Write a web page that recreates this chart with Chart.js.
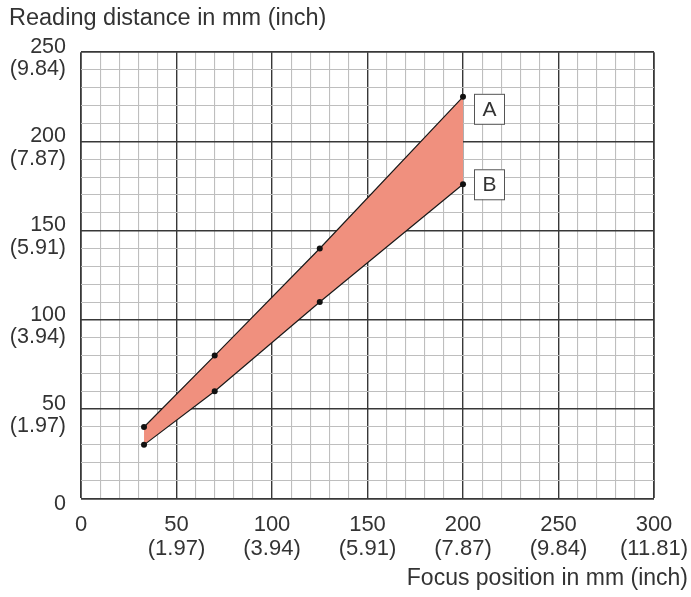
<!DOCTYPE html>
<html>
<head>
<meta charset="utf-8">
<script src="https://cdn.jsdelivr.net/npm/chart.js@4"></script>
<style>
  html, body { margin: 0; padding: 0; background: #fff; }
  #wrap { width: 691px; height: 597px; }
</style>
</head>
<body>
<div id="wrap"><canvas id="focusChart" width="691" height="597"></canvas></div>
<script>
// Values
const focusPos = [33, 70, 125, 200];          // focus position (mm)
const curveA = [40, 80, 140, 225];            // upper limit A (mm)
const curveB = [30, 60, 110, 176];            // lower limit B (mm)
const seriesNames = ['A', 'B'];

const xMajor = [0, 50, 100, 150, 200, 250, 300];
const xInch = ['', '(1.97)', '(3.94)', '(5.91)', '(7.87)', '(9.84)', '(11.81)'];
const yMajor = [0, 50, 100, 150, 200, 250];
const yInch = ['', '(1.97)', '(3.94)', '(5.91)', '(7.87)', '(9.84)'];

const FONT = "'Liberation Sans', Arial, sans-serif";
const TEXT = '#333';

function tickLabel(majors, inches) {
    return function(value) {
        const i = majors.indexOf(value);
        if (i < 0) return '';
        return inches[i] ? [String(value), inches[i]] : String(value);
    };
}

function gridColor(ctx) {
    return ctx.tick && ctx.tick.value % 50 === 0 ? '#383838' : '#bebebe';
}
// the outer frame is a little heavier than the inner major lines
function gridWidth(ctx) {
    if (!ctx.tick) return 1;
    const v = ctx.tick.value;
    if (v === ctx.scale.min || v === ctx.scale.max) return 1.8;
    return v % 50 === 0 ? 1.4 : 1.1;
}

// Boxed "A" / "B" labels next to the last point of each curve
const endLabels = {
    id: 'endLabels',
    afterDatasetsDraw(chart) {
        const ctx = chart.ctx;
        const shifts = [12, 0];
        chart.data.datasets.forEach((ds, i) => {
            const meta = chart.getDatasetMeta(i);
            const pt = meta.data[meta.data.length - 1];
            const w = 30, h = 30;
            const bx = pt.x + 11, by = pt.y + shifts[i] - h / 2;
            ctx.save();
            ctx.fillStyle = '#fff';
            ctx.strokeStyle = '#555';
            ctx.lineWidth = 1;
            ctx.fillRect(bx, by, w, h);
            ctx.strokeRect(bx + 0.5, by + 0.5, w, h);
            ctx.fillStyle = TEXT;
            ctx.font = '21px ' + FONT;
            ctx.textAlign = 'center';
            ctx.textBaseline = 'middle';
            ctx.fillText(seriesNames[i], bx + w / 2 + 0.5, by + h / 2 + 1);
            ctx.restore();
        });
    }
};

const chartCtx = document.getElementById('focusChart').getContext('2d');
const focusChart = new Chart(chartCtx, {
    type: 'line',
    data: {
        datasets: [{
            label: seriesNames[0],
            data: focusPos.map((x, i) => ({ x: x, y: curveA[i] })),
            borderColor: '#1a1a1a',
            borderWidth: 1.2,
            backgroundColor: '#f0907e',
            fill: '+1',
            order: 2,
            pointRadius: 3,
            pointBackgroundColor: '#111',
            pointBorderWidth: 0,
            tension: 0
        }, {
            label: seriesNames[1],
            data: focusPos.map((x, i) => ({ x: x, y: curveB[i] })),
            borderColor: '#1a1a1a',
            borderWidth: 1.2,
            fill: false,
            order: 1,
            pointRadius: 3,
            pointBackgroundColor: '#111',
            pointBorderWidth: 0,
            tension: 0
        }]
    },
    options: {
        responsive: false,
        animation: false,
        layout: { padding: { left: 9, right: 3, top: 0, bottom: 0 } },
        plugins: {
            legend: { display: false },
            tooltip: { enabled: false },
            title: {
                display: true,
                text: 'Reading distance in mm (inch)',
                align: 'start',
                color: TEXT,
                font: { family: FONT, size: 23.5, weight: 'normal', lineHeight: 1.2 },
                padding: { top: 4, bottom: 20 }
            },
            subtitle: {
                display: true,
                position: 'bottom',
                text: 'Focus position in mm (inch)',
                align: 'end',
                color: TEXT,
                font: { family: FONT, size: 23, weight: 'normal', lineHeight: 1.2 },
                padding: { top: 0, bottom: 5 }
            }
        },
        scales: {
            x: {
                type: 'linear',
                min: 0,
                max: 300,
                afterFit: s => { s.height = 66; s.paddingLeft = 0; s.paddingRight = 0; },
                border: { display: false },
                grid: { color: gridColor, lineWidth: gridWidth, drawTicks: false },
                ticks: {
                    stepSize: 10,
                    autoSkip: false,
                    maxRotation: 0,
                    padding: 14,
                    color: TEXT,
                    font: { family: FONT, size: 22, lineHeight: 1.1 },
                    callback: tickLabel(xMajor, xInch)
                }
            },
            y: {
                type: 'linear',
                min: 0,
                max: 250,
                afterFit: s => { s.width = 72; },
                border: { display: false },
                grid: { color: gridColor, lineWidth: gridWidth, drawTicks: false },
                ticks: {
                    stepSize: 10,
                    autoSkip: false,
                    padding: 15,
                    labelOffset: 6,
                    color: TEXT,
                    font: { family: FONT, size: 21.5, lineHeight: 1.05 },
                    callback: tickLabel(yMajor, yInch)
                }
            },
            // empty axis that only reserves the right margin
            yRight: {
                type: 'linear',
                position: 'right',
                min: 0,
                max: 250,
                afterFit: s => { s.width = 34; },
                border: { display: false },
                grid: { display: false },
                ticks: { display: false }
            }
        }
    },
    plugins: [endLabels]
});
</script>
</body>
</html>
